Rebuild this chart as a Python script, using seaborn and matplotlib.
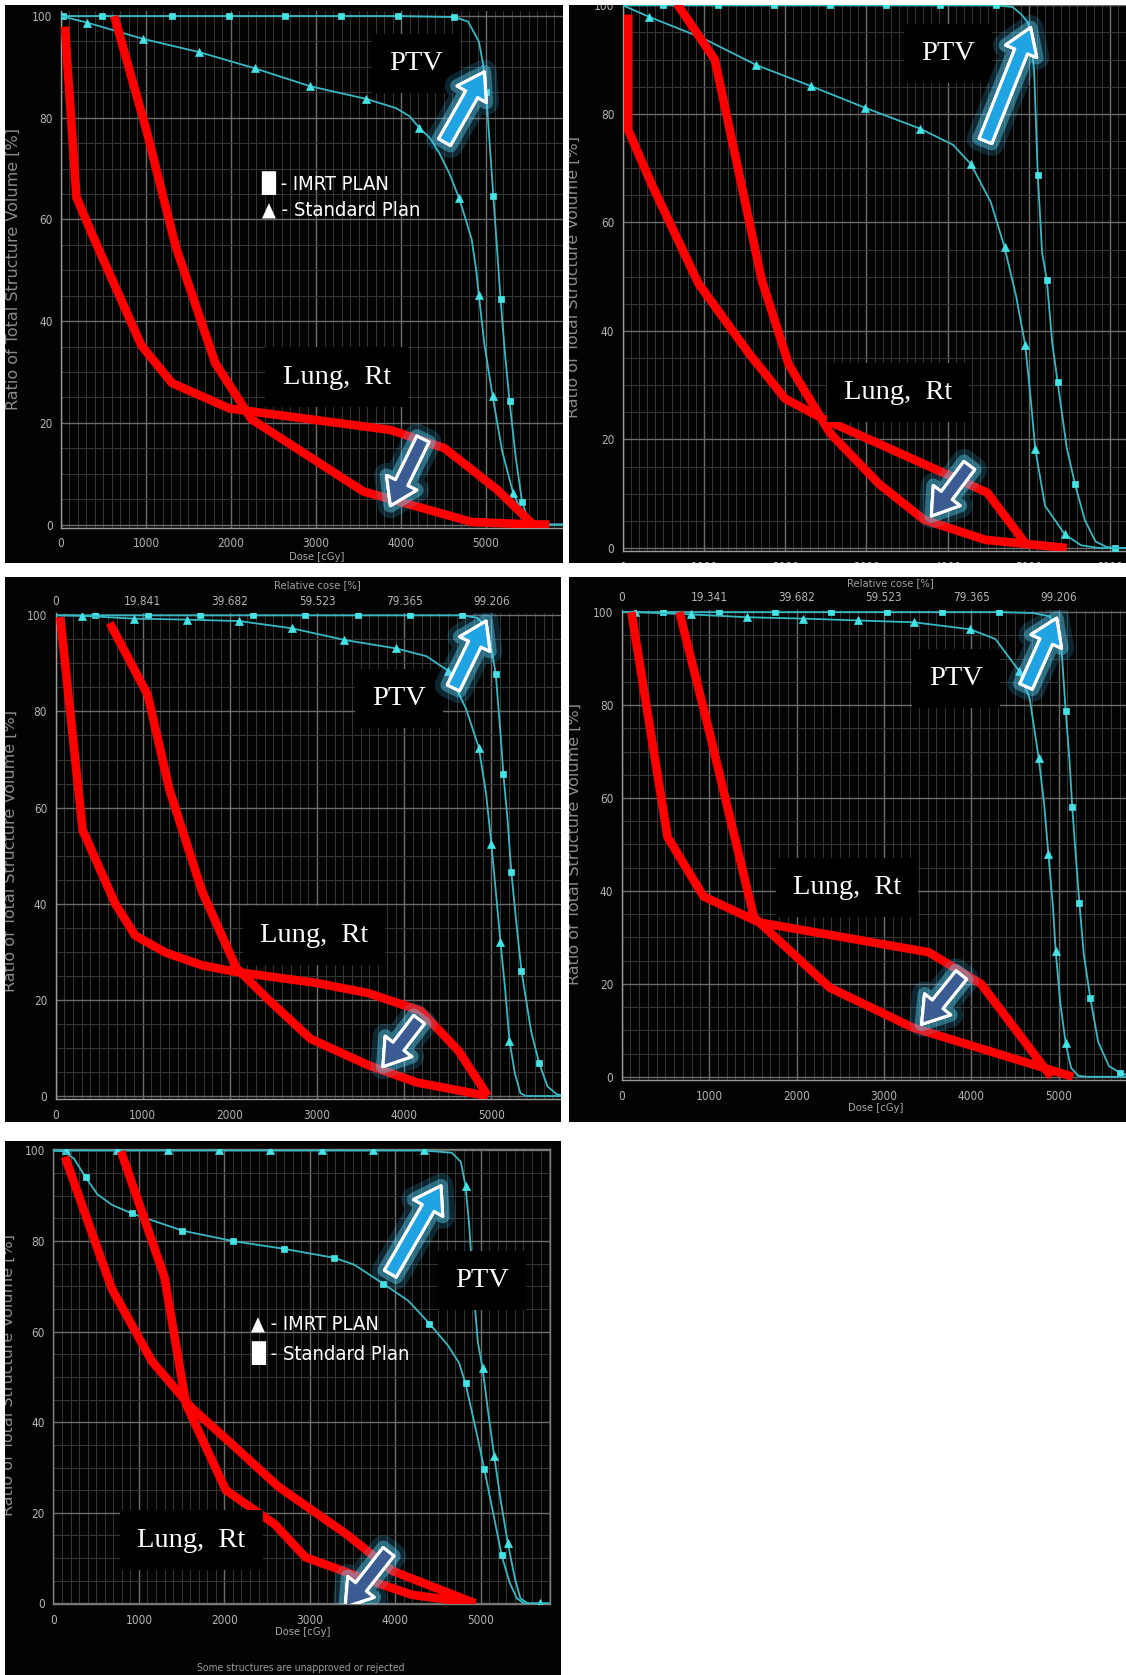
import numpy as np
import matplotlib
matplotlib.use("Agg")
import matplotlib.pyplot as plt
import matplotlib.patheffects as pe
from matplotlib.patches import FancyArrowPatch, Rectangle, PathPatch
from matplotlib.path import Path
import seaborn as sns


# DVH values: dose in cGy, volume in %.
# "imrt" = PTV curve that stays at 100 %, "std" = PTV curve that sags,
# "lung_1" / "lung_2" = the red traces drawn over the right lung curves.

p1_imrt_dose = [0, 25, 480, 1307, 1978, 2636, 3294, 3960, 4627, 4788, 4915, 4965, 5000, 5042, 5085,
                5128, 5170, 5220, 5276, 5350, 5424, 5490, 5552, 5650, 5905]
p1_imrt_vol = [100, 100, 100, 100, 100, 100, 100, 100, 99.8, 98.9, 95.0, 90.5, 85.0, 75.0, 64.6,
               54.5, 44.4, 34.0, 24.2, 13.0, 4.4, 1.2, 0, 0, 0]
p1_imrt_marks = [1, 2, 3, 4, 5, 6, 7, 8, 12, 14, 16, 18, 20]
p1_std_dose = [0, 310, 968, 1626, 2284, 2929, 3591, 3939, 4100, 4215, 4340, 4448, 4570, 4682, 4770,
               4830, 4880, 4915, 4979, 5076, 5191, 5318, 5424, 5530, 5637, 5905]
p1_std_vol = [100, 98.7, 95.5, 92.9, 89.7, 86.2, 83.7, 81.9, 80.3, 78.0, 76.0, 73.1, 69.0, 64.2, 59.5,
              56.1, 50.5, 45.1, 35.6, 25.3, 14.3, 6.2, 2.3, 0.5, 0, 0]
p1_std_marks = [1, 2, 3, 4, 5, 6, 9, 13, 17, 19, 21]
p1_lung_1_dose = [47, 183, 374, 947, 1307, 1986, 3875, 4512, 5127, 5552]
p1_lung_1_vol = [97.9, 64.4, 56.8, 35.2, 27.8, 22.8, 18.6, 15.0, 6.9, 0]
p1_lung_2_dose = [628, 1010, 1350, 1817, 2241, 3557, 4830, 5552, 5743]
p1_lung_2_vol = [100, 77.3, 54.7, 31.7, 20.7, 6.5, 0.5, 0, 0]

p2_imrt_dose = [0, 489, 1178, 1867, 2556, 3236, 3911, 4600, 4800, 4911, 4980, 5022, 5067, 5111, 5164,
                5222, 5289, 5356, 5467, 5569, 5689, 5822, 5956, 6067, 6200]
p2_imrt_vol = [100, 100, 100, 100, 100, 100, 100, 100, 99.7, 98.3, 97.0, 95.3, 87.6, 68.7, 54.4,
               49.4, 37.8, 30.5, 18.5, 11.8, 5.2, 1.2, 0.2, 0, 0]
p2_imrt_marks = [1, 2, 3, 4, 5, 6, 7, 13, 15, 17, 19, 23]
p2_std_dose = [0, 320, 978, 1644, 2320, 2987, 3658, 4067, 4289, 4533, 4702, 4844, 4956, 5022, 5080,
               5200, 5444, 5644, 5867, 6200]
p2_std_vol = [100, 97.9, 94.0, 89.0, 85.1, 81.1, 77.3, 74.3, 70.7, 63.7, 55.4, 46.4, 37.4, 27.8, 18.2,
              7.8, 2.5, 0.5, 0, 0]
p2_std_marks = [1, 2, 3, 4, 5, 6, 8, 10, 12, 14, 16]
p2_lung_1_dose = [67, 67, 356, 933, 1556, 2000, 2467, 3067, 4489, 4956]
p2_lung_1_vol = [98.3, 77.0, 67.0, 48.7, 35.8, 27.5, 23.8, 19.8, 10.2, 0.9]
p2_lung_2_dose = [667, 1133, 1711, 2044, 2556, 3156, 3711, 4467, 5467]
p2_lung_2_vol = [100.3, 90.0, 49.4, 33.8, 21.1, 11.8, 5.2, 1.5, 0]

p3_imrt_dose = [0, 456, 1058, 1660, 2261, 2863, 3465, 4066, 4668, 4834, 4959, 5050, 5104, 5137, 5187,
                5228, 5290, 5344, 5456, 5548, 5643, 5747, 5830, 5905]
p3_imrt_vol = [100, 100, 100, 100, 100, 100, 100, 100, 100, 99.5, 97.4, 87.8, 75.4, 67.0, 57.1,
               46.6, 35.3, 26.1, 13.4, 6.8, 2.0, 0.4, 0, 0]
p3_imrt_marks = [1, 2, 3, 4, 5, 6, 7, 8, 11, 13, 15, 17, 19]
p3_std_dose = [0, 303, 905, 1506, 2108, 2710, 3307, 3909, 4253, 4502, 4710, 4855, 4938, 5000, 5050,
               5104, 5158, 5207, 5270, 5332, 5394, 5905]
p3_std_vol = [100, 99.9, 99.3, 99.1, 98.8, 97.3, 94.9, 93.1, 91.5, 88.5, 80.5, 72.5, 63.0, 52.4, 42.6,
              32.0, 22.1, 11.5, 4.6, 0.6, 0, 0]
p3_std_marks = [1, 2, 3, 4, 5, 6, 7, 9, 11, 13, 15, 17]
p3_lung_1_dose = [54, 311, 685, 913, 1266, 1680, 2075, 2967, 3589, 4191, 4627, 4959]
p3_lung_1_vol = [99.6, 55.3, 40.0, 33.4, 29.8, 27.2, 25.8, 23.6, 21.4, 17.7, 9.3, 0]
p3_lung_2_dose = [622, 1058, 1307, 1680, 2075, 2427, 2925, 3589, 4149, 4959]
p3_lung_2_vol = [98.4, 83.4, 63.7, 42.6, 26.6, 20.3, 11.9, 6.4, 2.8, 0]
p3_rel_labels = ["0", "19.841", "39.682", "59.523", "79.365", "99.206"]

p4_imrt_dose = [0, 470, 1113, 1753, 2392, 3031, 3670, 4318, 4709, 4895, 5019, 5080, 5122, 5155, 5196,
                5237, 5287, 5361, 5452, 5575, 5699, 5814]
p4_imrt_vol = [100, 100, 100, 100, 100, 100, 100, 100, 99.8, 99.1, 95.7, 78.7, 68.6, 58.0, 47.5,
               37.3, 26.4, 17.0, 7.5, 2.3, 0.9, 0.2]
p4_imrt_marks = [1, 2, 3, 4, 5, 6, 7, 11, 13, 15, 17, 20]
p4_std_dose = [0, 153, 792, 1431, 2070, 2709, 3348, 3988, 4276, 4544, 4668, 4771, 4833, 4882, 4936,
               4965, 5019, 5080, 5142, 5225, 5328, 5814]
p4_std_vol = [100, 100, 99.5, 98.9, 98.6, 98.2, 97.8, 96.3, 94.2, 87.4, 81.4, 68.6, 58.8, 47.9, 36.2,
              27.1, 15.8, 7.2, 1.9, 0.2, 0, 0]
p4_std_marks = [1, 2, 3, 4, 5, 6, 7, 9, 11, 13, 15, 17]
p4_lung_1_dose = [111, 524, 936, 1575, 3513, 4111, 4915]
p4_lung_1_vol = [100, 51.6, 38.8, 33.2, 26.8, 20.0, 0]
p4_lung_2_dose = [660, 998, 1513, 2379, 3328, 5163]
p4_lung_2_vol = [100, 74.6, 34.3, 19.2, 10.6, 0]
p4_rel_labels = ["0", "19.341", "39.682", "59.523", "79.365", "99.206"]

p5_imrt_dose = [0, 148, 740, 1340, 1941, 2538, 3139, 3739, 4336, 4662, 4767, 4822, 4865, 4915, 4966,
                5021, 5085, 5157, 5233, 5317, 5402, 5465, 5550, 5698, 5812]
p5_imrt_vol = [100, 100, 100, 100, 100, 100, 100, 100, 100, 99.5, 97.5, 92.2, 83.5, 69.2, 57.7,
               52.0, 42.5, 32.6, 22.8, 13.3, 5.3, 1.1, 0, 0, 0]
p5_imrt_marks = [1, 2, 3, 4, 5, 6, 7, 8, 11, 15, 17, 19, 23]
p5_std_dose = [0, 114, 241, 376, 516, 685, 918, 1510, 2102, 2695, 3287, 3519, 3858, 4154, 4399,
               4619, 4746, 4822, 4894, 4966, 5042, 5148, 5245, 5338, 5423, 5508, 5812]
p5_std_vol = [100, 99.8, 98.2, 94.1, 90.3, 88.0, 86.1, 82.3, 80.0, 78.3, 76.3, 74.8, 70.6, 66.8, 61.8,
              56.9, 53.1, 48.6, 42.5, 36.4, 29.6, 19.7, 10.6, 4.6, 1.1, 0, 0]
p5_std_marks = [3, 6, 7, 8, 9, 10, 12, 14, 17, 20, 22]
p5_lung_1_dose = [135, 685, 1151, 1616, 2081, 2631, 3435, 3964, 4937]
p5_lung_1_vol = [98.6, 69.4, 53.5, 43.2, 35.3, 25.8, 15.2, 7.2, 0]
p5_lung_2_dose = [791, 1299, 1552, 2018, 2589, 2948, 3604, 4196, 4937]
p5_lung_2_vol = [99.8, 72.1, 44.0, 25.0, 17.5, 10.2, 5.7, 1.9, 0]

dose_ticks = [0, 1000, 2000, 3000, 4000, 5000, 6000]
vol_ticks = [0, 20, 40, 60, 80, 100]
p1_legend = ["█ - IMRT PLAN", "▲ - Standard Plan"]
p5_legend = ["▲ - IMRT PLAN", "█ - Standard Plan"]

ptv_label = "PTV"
lung_label = "Lung,  Rt"
ylabel_text = "Ratio of Total Structure Volume [%]"
xlabel_text = "Dose [cGy]"
rel_label_text = "Relative cose [%]"
footer_text = "Some structures are unapproved or rejected"


# layout, measured on the reference in a 1054 x 1568 px frame
W, H = 1054, 1568
layout = [
    dict(box=(5, 5, 527, 527), x0=57, ppk=79.6, y0=491, ppp=4.76, ax=(57, 527, 10, 494),
         ptv=(4181, 90.7), lung=(3243, 29.0), arr_ptv=((4512, 75.2), (4979, 89.0)),
         arr_lung=((4257, 16.8), (3875, 3.7)), legend=(2360, 67.2, 61.8), ylab=(12, 252), xlab=(296, 521)),
    dict(box=(533, 5, 1054, 527), x0=583, ppk=76.0, y0=513, ppp=5.08, ax=(583, 1054, 5, 516),
         ptv=(4009, 91.1), lung=(3387, 28.6), arr_ptv=((4467, 75.0), (5022, 95.9)),
         arr_lung=((4267, 15.2), (3800, 5.9)), legend=None, ylab=(537, 259), xlab=None),
    dict(box=(5, 540, 525, 1050), x0=52, ppk=81.6, y0=1026, ppp=4.5, ax=(52, 525, 574, 1029),
         ptv=(3942, 82.7), lung=(2967, 33.4), arr_ptv=((4564, 84.9), (4938, 98.8)),
         arr_lung=((4170, 15.9), (3755, 6.1)), legend=None, ylab=(10, 797), xlab=None,
         rel=(297, 548)),
    dict(box=(533, 540, 1054, 1050), x0=582, ppk=81.8, y0=1008, ppp=4.35, ax=(582, 1054, 571, 1011),
         ptv=(3827, 85.8), lung=(2577, 40.7), arr_ptv=((4627, 84.0), (4977, 98.7)),
         arr_lung=((3885, 21.9), (3431, 11.3)), legend=None, ylab=(538, 790), xlab=(820, 1037),
         rel=(833, 546)),
    dict(box=(5, 1068, 525, 1568), x0=50, ppk=80.0, y0=1501, ppp=4.24, ax=(50, 515, 1076, 1502),
         ptv=(5013, 71.3), lung=(1616, 14.0), arr_ptv=((3942, 72.8), (4535, 92.2)),
         arr_lung=((3921, 11.4), (3414, -0.8)), legend=(2314, 61.6, 55.2), ylab=(8, 1287),
         xlab=(283, 1528), frame=True, footer=(282, 1561)),
]

panels = [
    dict(imrt=(p1_imrt_dose, p1_imrt_vol, p1_imrt_marks), std=(p1_std_dose, p1_std_vol, p1_std_marks),
         lungs=[(p1_lung_1_dose, p1_lung_1_vol), (p1_lung_2_dose, p1_lung_2_vol)],
         imrt_marker="s", std_marker="^", legend=p1_legend, rel=None),
    dict(imrt=(p2_imrt_dose, p2_imrt_vol, p2_imrt_marks), std=(p2_std_dose, p2_std_vol, p2_std_marks),
         lungs=[(p2_lung_1_dose, p2_lung_1_vol), (p2_lung_2_dose, p2_lung_2_vol)],
         imrt_marker="s", std_marker="^", legend=None, rel=None),
    dict(imrt=(p3_imrt_dose, p3_imrt_vol, p3_imrt_marks), std=(p3_std_dose, p3_std_vol, p3_std_marks),
         lungs=[(p3_lung_1_dose, p3_lung_1_vol), (p3_lung_2_dose, p3_lung_2_vol)],
         imrt_marker="s", std_marker="^", legend=None, rel=p3_rel_labels),
    dict(imrt=(p4_imrt_dose, p4_imrt_vol, p4_imrt_marks), std=(p4_std_dose, p4_std_vol, p4_std_marks),
         lungs=[(p4_lung_1_dose, p4_lung_1_vol), (p4_lung_2_dose, p4_lung_2_vol)],
         imrt_marker="s", std_marker="^", legend=None, rel=p4_rel_labels),
    dict(imrt=(p5_imrt_dose, p5_imrt_vol, p5_imrt_marks), std=(p5_std_dose, p5_std_vol, p5_std_marks),
         lungs=[(p5_lung_1_dose, p5_lung_1_vol), (p5_lung_2_dose, p5_lung_2_vol)],
         imrt_marker="^", std_marker="s", legend=p5_legend, rel=None),
]

PANEL_BG = "#030303"
PTV_LINE = "#37b9c4"
PTV_MARK = "#45e3e6"
TICK_COL = "#b4b4b4"
SERIF = ["Liberation Serif", "DejaVu Serif"]

sns.set_style("dark")
plt.rcParams["font.family"] = ["DejaVu Sans"]
plt.rcParams["font.stretch"] = "condensed"


def fig_xy(x, y):
    return x / W, 1 - y / H


def glow_arrow(ax, tail, tip, face):
    arr = FancyArrowPatch(tail, tip,
                          arrowstyle="simple,head_length=1.6,head_width=2.1,tail_width=0.85",
                          mutation_scale=11.5, facecolor=face, edgecolor="white", lw=2.2,
                          shrinkA=0, shrinkB=0, zorder=7)
    arr.set_path_effects([
        pe.withStroke(linewidth=18, foreground="#3fc8ff", alpha=0.18),
        pe.withStroke(linewidth=10, foreground="#5fd8ff", alpha=0.4),
        pe.Normal(),
    ])
    ax.add_patch(arr)


fig = plt.figure(figsize=(11.26, 16.75), dpi=100, facecolor="white")

# black screenshot backgrounds
bg = fig.add_axes([0, 0, 1, 1], zorder=-5)
bg.set_xlim(0, W)
bg.set_ylim(H, 0)
bg.axis("off")
for p in layout:
    bx0, by0, bx1, by1 = p["box"]
    bg.add_patch(Rectangle((bx0, by0), bx1 - bx0, by1 - by0, facecolor=PANEL_BG, edgecolor="none"))

for p, d in zip(layout, panels):
    L, R, T, B = p["ax"]
    ax = fig.add_axes([L / W, 1 - B / H, (R - L) / W, (B - T) / H])
    ax.set_facecolor(PANEL_BG)

    ax.set_xticks(dose_ticks)
    ax.set_xticks(np.arange(0, 6501, 100), minor=True)
    ax.set_yticks(vol_ticks)
    ax.set_yticks(np.arange(0, 101, 5), minor=True)
    ax.set_xlim((L - p["x0"]) / p["ppk"] * 1000, (R - p["x0"]) / p["ppk"] * 1000)
    ax.set_ylim((p["y0"] - B) / p["ppp"], (p["y0"] - T) / p["ppp"])

    ax.set_axisbelow(True)
    ax.grid(True, which="major", color="#6c6c6c", lw=1.0)
    ax.grid(True, which="minor", color="#363636", lw=0.7)
    ax.tick_params(which="major", length=3, width=0.8, color="#8a8a8a", labelcolor=TICK_COL,
                   labelsize=8.5, pad=3)
    ax.tick_params(axis="x", which="major", pad=4)
    ax.tick_params(which="minor", length=0)

    frame = p.get("frame", False)
    for side, sp in ax.spines.items():
        if frame or side in ("left", "bottom"):
            sp.set_visible(True)
            sp.set_color("#9a9a9a" if not frame else "#808080")
            sp.set_linewidth(1.0)
        else:
            sp.set_visible(False)

    # PTV curves
    for key, mk in (("imrt", d["imrt_marker"]), ("std", d["std_marker"])):
        xs, ys, marks = d[key]
        sns.lineplot(x=xs, y=ys, ax=ax, sort=False, estimator=None, color=PTV_LINE, lw=1.3,
                     marker=mk, markevery=marks, markersize=5 if mk == "s" else 6,
                     markerfacecolor=PTV_MARK, markeredgecolor=PTV_MARK, markeredgewidth=0.5,
                     zorder=3)

    # red traces over the lung curves
    for xs, ys in d["lungs"]:
        sns.lineplot(x=xs, y=ys, ax=ax, sort=False, estimator=None, color="#ff0000", lw=6.2,
                     solid_joinstyle="miter", solid_capstyle="butt", zorder=4)

    ax.set_xlabel("")
    ax.set_ylabel("")

    box = dict(boxstyle="square,pad=0.6", facecolor="black", edgecolor="none")
    ax.text(*p["ptv"], ptv_label, family=SERIF, size=20.5, color="white",
            ha="center", va="center", bbox=box, zorder=5)
    ax.text(*p["lung"], lung_label, family=SERIF, size=20.5, color="white",
            ha="center", va="center", bbox=box, zorder=5)

    glow_arrow(ax, *p["arr_ptv"], face="#1fa3e3")
    glow_arrow(ax, *p["arr_lung"], face="#3b5c93")

    if d["legend"] is not None:
        lx, ly1, ly2 = p["legend"]
        ax.text(lx, ly1, d["legend"][0], color="white", size=14.5, ha="left", va="center", zorder=5)
        ax.text(lx, ly2, d["legend"][1], color="white", size=14.5, ha="left", va="center", zorder=5)

    if d["rel"] is not None:
        sec = ax.secondary_xaxis("top")
        sec.set_xticks(dose_ticks[:6], labels=d["rel"])
        sec.tick_params(axis="x", length=0, pad=4, labelsize=8.5, labelcolor=TICK_COL)
        for sp in sec.spines.values():
            sp.set_visible(False)
        fig.text(*fig_xy(*p["rel"]), rel_label_text, color="#a0a0a0", size=8,
                 ha="center", va="center")

    fig.text(*fig_xy(*p["ylab"]), ylabel_text, color="#8a8a8a", size=11.5, stretch="normal",
             rotation=90, ha="center", va="center")
    if p["xlab"] is not None:
        fig.text(*fig_xy(*p["xlab"]), xlabel_text, color="#a8a8a8", size=8,
                 ha="center", va="center")
    if "footer" in p:
        fig.text(*fig_xy(*p["footer"]), footer_text, color="#9a9a9a", size=7.5,
                 ha="center", va="center")

# white page around the five screenshots (cuts anything spilling out)
mask = fig.add_axes([0, 0, 1, 1], zorder=30)
mask.set_xlim(0, W)
mask.set_ylim(H, 0)
mask.axis("off")
mask.patch.set_visible(False)
codes = [Path.MOVETO, Path.LINETO, Path.LINETO, Path.LINETO, Path.CLOSEPOLY]
parts = [Path([(0, 0), (W, 0), (W, H), (0, H), (0, 0)], codes)]
for p in layout:
    bx0, by0, bx1, by1 = p["box"]
    parts.append(Path([(bx0, by0), (bx0, by1), (bx1, by1), (bx1, by0), (bx0, by0)], codes))
mask.add_patch(PathPatch(Path.make_compound_path(*parts), facecolor="white", edgecolor="none"))

fig.savefig("out.png", dpi=100, facecolor="white")
